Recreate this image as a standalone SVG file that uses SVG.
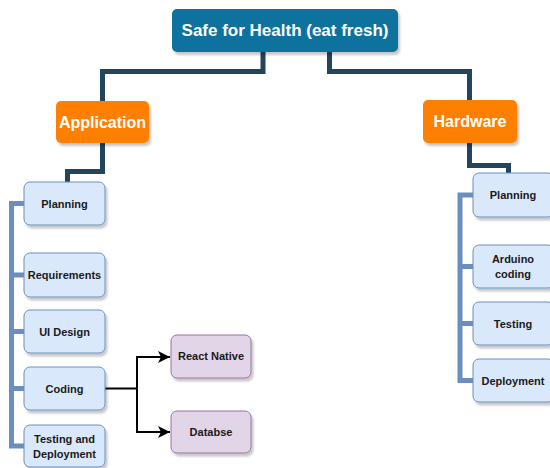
<svg xmlns="http://www.w3.org/2000/svg" width="550" height="468" viewBox="0 0 550 468">
  <style>
    .title { fill: #10739E; filter: url(#shadow); }
    .branch { fill: #FF8000; filter: url(#shadow); }
    .task { fill: #DAE8FC; stroke: #6C8EBF; stroke-width: 1; filter: url(#shadow); }
    .tech { fill: #E1D5E7; stroke: #9673A6; stroke-width: 1; filter: url(#shadow); }
    .lbl-w { font-family: "Liberation Sans", Arial, sans-serif; font-weight: bold; fill: #FFFFFF; text-anchor: middle; dominant-baseline: central; }
    .lbl { font-family: "Liberation Sans", Arial, sans-serif; font-weight: bold; font-size: 11px; fill: #1A1A1A; text-anchor: middle; dominant-baseline: central; }
    .trunk { fill: none; stroke: #23445D; stroke-width: 5; stroke-linejoin: miter; }
    .rail { fill: none; stroke: #6C8EBF; stroke-width: 5; stroke-linejoin: miter; }
    .flow { fill: none; stroke: #000000; stroke-width: 2; }
  </style>
  <defs>
    <filter id="shadow" x="-10%" y="-10%" width="130%" height="140%">
      <feDropShadow dx="2" dy="3" stdDeviation="1" flood-color="#000000" flood-opacity="0.22"/>
    </filter>
    <marker id="arrow" markerUnits="userSpaceOnUse" markerWidth="14" markerHeight="14" refX="12" refY="6" orient="auto">
      <path d="M0,0 L12,6 L0,12 L3,6 Z" fill="#000000"/>
    </marker>
  </defs>

  <!-- connectors -->
  <g id="connectors">
    <path class="trunk" d="M263,52 V71.5 H102.5 V101"/>
    <path class="trunk" d="M329.5,52 V71.5 H469.5 V100"/>
    <path class="trunk" d="M102.5,143 V171.5 H67.5 V182"/>
    <path class="trunk" d="M469.5,143 V165.5 H508.5 V173"/>
    <!-- application steps rail -->
    <path class="rail" d="M24,203.5 H11.5 V446 H24"/>
    <path class="rail" d="M11.5,275 H24 M11.5,331.5 H24 M11.5,388.5 H24"/>
    <!-- hardware steps rail -->
    <path class="rail" d="M473,195 H460 V380.5 H473"/>
    <path class="rail" d="M460,266.5 H473 M460,323.5 H473"/>
    <!-- coding branches -->
    <path class="flow" d="M105,388.5 H137"/>
    <path class="flow" d="M137,388.5 V357 H170" marker-end="url(#arrow)"/>
    <path class="flow" d="M137,388.5 V432 H170" marker-end="url(#arrow)"/>
  </g>

  <g id="root">
    <rect class="title" x="172" y="9" width="226" height="43" rx="5"/>
    <text class="lbl-w" x="285" y="30.5" font-size="17">Safe for Health (eat fresh)</text>
  </g>

  <g id="application">
    <rect class="branch" x="56" y="101" width="93" height="42" rx="5"/>
    <text class="lbl-w" x="102.5" y="122" font-size="16">Application</text>
  </g>

  <g id="hardware">
    <rect class="branch" x="423" y="100" width="94" height="43" rx="5"/>
    <text class="lbl-w" x="470" y="121.5" font-size="16">Hardware</text>
  </g>

  <g id="app-planning">
    <rect class="task" x="24" y="182" width="81" height="43" rx="6"/>
    <text class="lbl" x="64.5" y="203.5">Planning</text>
  </g>
  <g id="app-requirements">
    <rect class="task" x="24" y="253" width="81" height="44" rx="6"/>
    <text class="lbl" x="64.5" y="275">Requirements</text>
  </g>
  <g id="app-ui-design">
    <rect class="task" x="24" y="310" width="81" height="43" rx="6"/>
    <text class="lbl" x="64.5" y="331.5">UI Design</text>
  </g>
  <g id="app-coding">
    <rect class="task" x="24" y="367" width="81" height="43" rx="6"/>
    <text class="lbl" x="64.5" y="388.5">Coding</text>
  </g>
  <g id="app-testing">
    <rect class="task" x="24" y="425" width="81" height="42" rx="6"/>
    <text class="lbl" x="64.5" y="439">Testing and</text>
    <text class="lbl" x="64.5" y="453.5">Deployment</text>
  </g>

  <g id="react-native">
    <rect class="tech" x="171" y="335" width="80" height="43" rx="6"/>
    <text class="lbl" x="211" y="356">React Native</text>
  </g>
  <g id="database">
    <rect class="tech" x="171" y="411" width="80" height="42" rx="6"/>
    <text class="lbl" x="211" y="432">Databse</text>
  </g>

  <g id="hw-planning">
    <rect class="task" x="473" y="173" width="81" height="44" rx="6"/>
    <text class="lbl" x="513" y="195">Planning</text>
  </g>
  <g id="hw-arduino">
    <rect class="task" x="473" y="245" width="81" height="43" rx="6"/>
    <text class="lbl" x="513" y="259">Arduino</text>
    <text class="lbl" x="513" y="273.5">coding</text>
  </g>
  <g id="hw-testing">
    <rect class="task" x="473" y="302" width="81" height="43" rx="6"/>
    <text class="lbl" x="513" y="323.5">Testing</text>
  </g>
  <g id="hw-deployment">
    <rect class="task" x="473" y="359" width="81" height="43" rx="6"/>
    <text class="lbl" x="513" y="380.5">Deployment</text>
  </g>
</svg>
